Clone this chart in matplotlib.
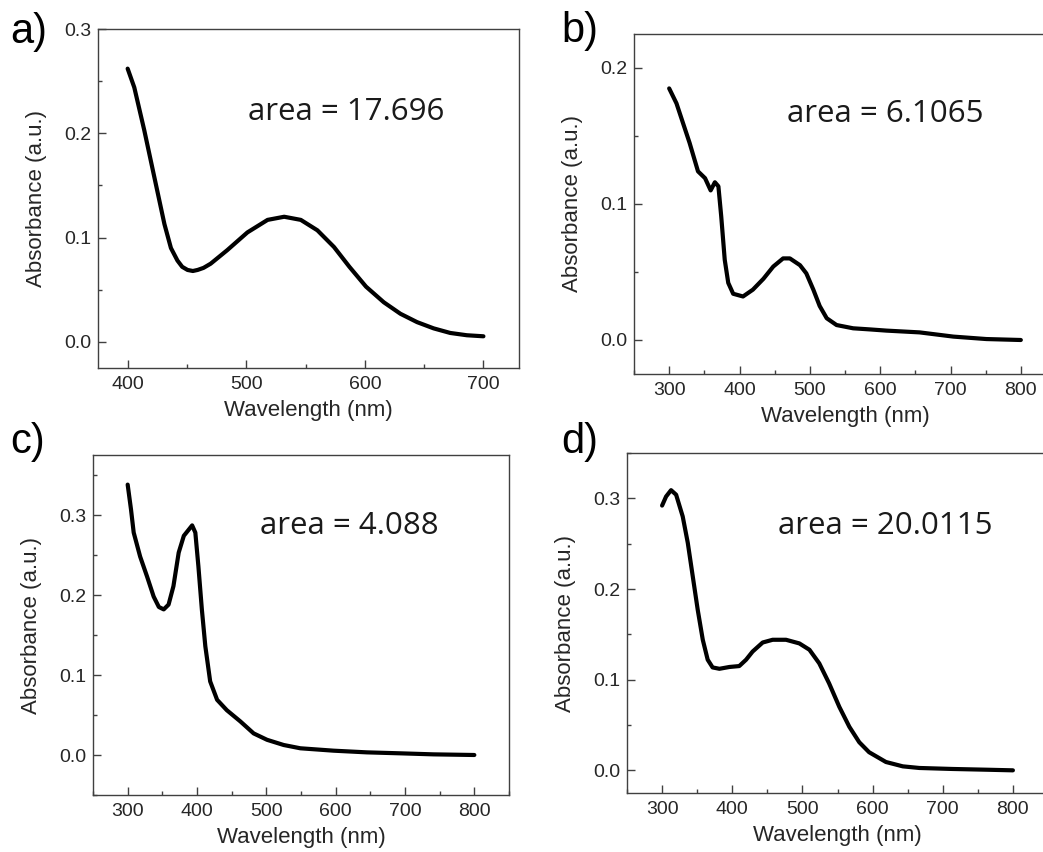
import matplotlib
matplotlib.use("Agg")
import matplotlib.pyplot as plt
from matplotlib.ticker import MultipleLocator, FormatStrFormatter

# spectra (wavelength in nm, absorbance in a.u.)
wl_a = [400, 405.6, 414, 422.5, 431, 436.5, 442, 446, 450.5, 455, 459, 464, 470, 484,
        501, 518, 532, 546, 560, 574, 587, 601, 616, 630, 644, 658, 672, 686, 700]
abs_a = [0.262, 0.244, 0.203, 0.158, 0.113, 0.090, 0.078, 0.072, 0.069, 0.068, 0.069,
         0.071, 0.075, 0.088, 0.105, 0.117, 0.120, 0.117, 0.107, 0.091, 0.072, 0.053,
         0.038, 0.027, 0.019, 0.013, 0.0086, 0.0064, 0.0054]

wl_b = [300, 310.4, 320, 329, 341, 351, 359, 365, 370, 374, 379, 384, 391, 405, 419,
        434, 448, 462, 471.6, 486, 495, 505, 514, 524, 538, 561.6, 585, 609, 656, 704,
        751, 800]
abs_b = [0.185, 0.174, 0.159, 0.145, 0.124, 0.119, 0.110, 0.116, 0.113, 0.091, 0.059,
         0.042, 0.034, 0.032, 0.037, 0.045, 0.054, 0.060, 0.060, 0.055, 0.049, 0.037,
         0.025, 0.016, 0.011, 0.0086, 0.0078, 0.0069, 0.0056, 0.0025, 0.0007, 0.0]

wl_c = [300, 304.8, 308.7, 318, 328, 337.5, 345, 352, 359, 366, 373.6, 381, 393, 397.6,
        402, 407, 412, 419, 429, 443, 462.5, 481.7, 501, 525, 549, 597, 645, 693, 741, 800]
abs_c = [0.338, 0.307, 0.278, 0.248, 0.223, 0.198, 0.185, 0.182, 0.188, 0.211, 0.253,
         0.274, 0.287, 0.278, 0.236, 0.182, 0.136, 0.092, 0.069, 0.056, 0.042, 0.027,
         0.019, 0.0125, 0.0084, 0.0054, 0.0033, 0.0021, 0.0008, 0.0]

wl_d = [300, 305.7, 312.8, 320, 329.4, 336.6, 343.7, 350.8, 358, 365, 372, 381.7, 396,
        410, 419.7, 429, 443.4, 457.6, 476.6, 495.6, 510, 524, 538, 552.6, 566.9, 581,
        595, 619, 643, 666.6, 714, 761.6, 800]
abs_d = [0.292, 0.302, 0.309, 0.304, 0.280, 0.251, 0.214, 0.177, 0.144, 0.122, 0.1135,
         0.112, 0.114, 0.115, 0.122, 0.131, 0.141, 0.144, 0.144, 0.140, 0.133, 0.118,
         0.096, 0.070, 0.048, 0.031, 0.020, 0.0092, 0.0044, 0.0026, 0.0015, 0.0007, 0.0]

panel_letters = ["a)", "b)", "c)", "d)"]
area_texts = ["area = 17.696", "area = 6.1065", "area = 4.088", "area = 20.0115"]

plt.rcParams["font.family"] = ["Liberation Sans", "DejaVu Sans"]
plt.rcParams["xtick.labelsize"] = 14
plt.rcParams["ytick.labelsize"] = 14

W, H = 1043, 852
fig = plt.figure(figsize=(W / 100, H / 100), dpi=100)


def px_box(left, top, right, bottom):
    return [left / W, 1 - bottom / H, (right - left) / W, (bottom - top) / H]


panels = [
    # data, axes box (px), xlim, ylim, area text pos (px), letter pos (px)
    (wl_a, abs_a, px_box(98, 29, 519, 368), (375, 730), (-0.025, 0.3), (248, 120), (10, 43)),
    (wl_b, abs_b, px_box(634, 34, 1056, 374), (250, 850), (-0.025, 0.225), (787, 122), (561, 42)),
    (wl_c, abs_c, px_box(93, 455, 509, 795), (250, 850), (-0.05, 0.375), (260, 534), (10, 453)),
    (wl_d, abs_d, px_box(627, 453, 1048, 793), (250, 850), (-0.025, 0.35), (778, 534), (561, 453)),
]

spine_col = "#404040"
text_col = "#262626"

for i, (x, y, box, xl, yl, apos, lpos) in enumerate(panels):
    ax = fig.add_axes(box)
    ax.plot(x, y, color="black", lw=3.0, solid_capstyle="round", solid_joinstyle="round")
    ax.set_xlim(*xl)
    ax.set_ylim(*yl)
    ax.xaxis.set_major_locator(MultipleLocator(100))
    ax.xaxis.set_minor_locator(MultipleLocator(50))
    ax.yaxis.set_major_locator(MultipleLocator(0.1))
    ax.yaxis.set_minor_locator(MultipleLocator(0.05))
    ax.yaxis.set_major_formatter(FormatStrFormatter("%.1f"))
    for s in ax.spines.values():
        s.set_color(spine_col)
        s.set_linewidth(1.0)
    ax.tick_params(which="both", direction="in", top=False, right=False,
                   color=spine_col, width=1.0, labelcolor=text_col)
    ax.tick_params(which="major", length=5.5, labelsize=14)
    ax.tick_params(axis="x", which="major", pad=6)
    ax.tick_params(axis="y", which="major", pad=5)
    ax.tick_params(which="minor", length=3)
    ax.set_xlabel("Wavelength (nm)", fontsize=16, color=text_col, labelpad=5)
    ax.set_ylabel("Absorbance (a.u.)", fontsize=16, color=text_col, labelpad=12)

    fig.text(apos[0] / W, 1 - apos[1] / H, area_texts[i], fontsize=22.5,
             family="Open Sans", color="#1a1a1a", va="baseline", ha="left")
    fig.text(lpos[0] / W, 1 - lpos[1] / H, panel_letters[i], fontsize=30,
             color="black", va="baseline", ha="left")

fig.savefig("out.png", dpi=100)
